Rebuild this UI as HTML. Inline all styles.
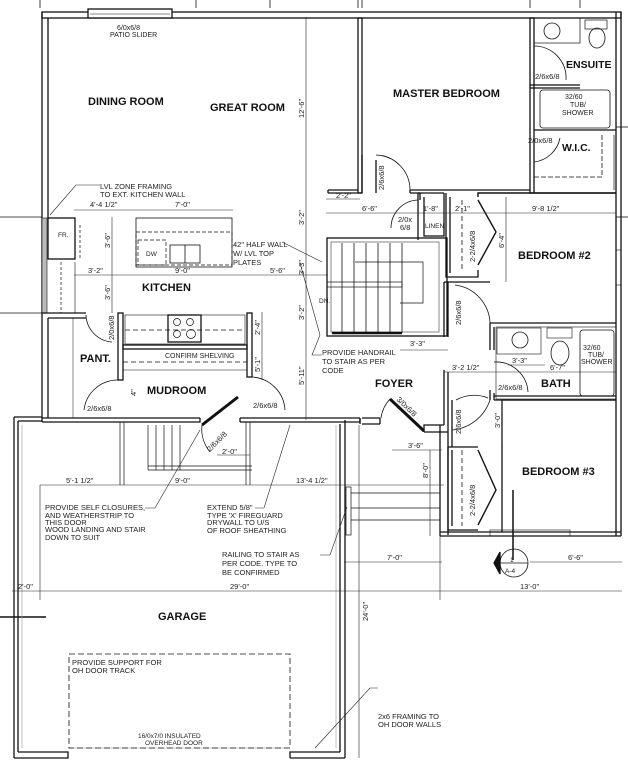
<!DOCTYPE html>
<html><head><meta charset="utf-8"><style>
html,body{margin:0;padding:0;background:#fff}
svg{display:block}
.t{font-family:"Liberation Sans",sans-serif;font-weight:bold;fill:#111}
.n{font-family:"Liberation Sans",sans-serif;fill:#222;font-size:7.5px}
.d{font-family:"Liberation Sans",sans-serif;fill:#222;font-size:7.5px}
</style></head><body>
<svg width="628" height="768" viewBox="0 0 628 768" xmlns="http://www.w3.org/2000/svg">
<g fill="none" stroke="#111" stroke-width="1.3">
<line x1="0" y1="217" x2="42" y2="217" stroke-width="0.8"/>
<line x1="0" y1="313" x2="42" y2="313" stroke-width="0.8"/>
<line x1="0" y1="617" x2="46" y2="617" stroke-width="1.5"/>
<line x1="616" y1="127" x2="628" y2="127" stroke-width="0.8"/>
<line x1="616" y1="217" x2="628" y2="217" stroke-width="0.8"/>
<line x1="40" y1="0" x2="40" y2="8" stroke-width="0.8"/>
<line x1="196" y1="0" x2="196" y2="8" stroke-width="0.8"/>
<line x1="270" y1="0" x2="270" y2="8" stroke-width="0.8"/>
<line x1="358" y1="0" x2="358" y2="8" stroke-width="0.8"/>
<line x1="362" y1="0" x2="362" y2="8" stroke-width="0.8"/>
<line x1="530" y1="0" x2="530" y2="8" stroke-width="0.8"/>
<line x1="580" y1="0" x2="580" y2="8" stroke-width="0.8"/>
<rect x="42" y="12" width="579" height="6"/>
<rect x="88" y="9" width="84" height="9" fill="#fff"/>
<line x1="90" y1="14" x2="170" y2="14" stroke-width="0.6"/>
<line x1="42" y1="12" x2="42" y2="318"/>
<line x1="48" y1="18" x2="48" y2="218"/>
<rect x="42" y="218" width="5" height="95" fill="#bbb" stroke-width="0.6"/>
<rect x="48" y="218" width="27" height="41"/>
<line x1="80" y1="225" x2="80" y2="258" stroke-dasharray="3,2" stroke-width="0.7"/>
<line x1="61" y1="262" x2="61" y2="313" stroke-dasharray="3,2" stroke-width="0.7"/>
<line x1="75" y1="262" x2="75" y2="313" stroke-width="0.6"/>
<path d="M42 313 H86 M48 318 H86"/>
<line x1="42" y1="318" x2="42" y2="422"/>
<line x1="48" y1="318" x2="48" y2="418"/>
<line x1="73" y1="318" x2="73" y2="418" stroke-width="0.5"/>
<path d="M42 418 H200 M42 422 H200 V418 M240 418 H360 M240 422 H360 V418 M240 418 V422"/>
<rect x="118" y="313" width="5" height="67"/>
<rect x="247" y="313" width="5" height="64"/>
<rect x="123" y="345" width="124" height="4"/>
<rect x="125" y="315" width="120" height="29" stroke-width="0.6"/>
<rect x="168" y="315" width="33" height="27"/>
<circle cx="177" cy="322" r="3.5" stroke-width="0.7"/><circle cx="190" cy="322" r="3.5" stroke-width="0.7"/>
<circle cx="177" cy="334" r="3.5" stroke-width="0.7"/><circle cx="191" cy="334" r="4.5" stroke-width="0.7"/>
<line x1="125" y1="330" x2="245" y2="330" stroke-dasharray="5,3" stroke-width="0.7"/>
<line x1="123" y1="362" x2="247" y2="362" stroke-dasharray="5,3" stroke-width="0.7"/>
<line x1="123" y1="370" x2="247" y2="370" stroke-width="0.6"/>
<path d="M86 315 A28 28 0 0 0 112 342" stroke-width="0.8"/>
<path d="M84 410 A34 34 0 0 1 118 380" stroke-width="0.8"/>
<path d="M252 377 A35 35 0 0 1 285 410" stroke-width="0.8"/>
<path d="M202 425 L238 397" stroke-width="3"/>
<path d="M202 425 A36 36 0 0 0 210 452" stroke-width="0.8"/>
<rect x="136" y="218" width="96" height="49" stroke-width="0.8"/>
<rect x="136" y="232" width="96" height="33" stroke-dasharray="4,2" stroke-width="0.7"/>
<rect x="138" y="240" width="28" height="25" stroke-dasharray="4,2" stroke-width="0.7"/>
<rect x="170" y="245" width="30" height="18" stroke-width="0.8"/>
<line x1="185" y1="245" x2="185" y2="263" stroke-width="0.8"/>
<rect x="358" y="18" width="4" height="175"/>
<path d="M328 190 H358 M328 193 H362 M328 190 V193"/>
<path d="M410 190 H530 M410 193 H420 V200 M410 190 V193"/>
<path d="M362 193 L362 155 M376 160 L376 193" stroke-width="1.3"/>
<path d="M376 155 A35 35 0 0 1 410 190" stroke-width="0.8"/>
<rect x="530" y="18" width="4" height="175"/>
<line x1="534" y1="193" x2="616" y2="193"/>
<rect x="534" y="18" width="46" height="25" stroke-width="0.7"/>
<circle cx="552" cy="31" r="8" stroke-width="0.8"/>
<rect x="585" y="20" width="22" height="9" stroke-width="0.7"/>
<ellipse cx="597" cy="38" rx="8" ry="10" stroke-width="0.8"/>
<path d="M534 46 A32 32 0 0 1 566 80" stroke-width="0.8"/>
<line x1="530" y1="85" x2="580" y2="85"/>
<line x1="530" y1="88" x2="580" y2="88"/>
<rect x="540" y="90" width="70" height="38" rx="3" stroke-width="0.8"/>
<line x1="534" y1="130" x2="616" y2="130"/>
<path d="M534 162 A30 30 0 0 0 560 138" stroke-width="0.8"/>
<path d="M534 177 H602 V135" stroke-dasharray="5,2" stroke-width="0.8"/>
<line x1="614" y1="135" x2="614" y2="190" stroke-width="0.7"/>
<line x1="616" y1="12" x2="616" y2="536"/>
<line x1="621" y1="12" x2="621" y2="536"/>
<rect x="616" y="250" width="5" height="35" stroke-width="0.6"/>
<path d="M418 193 V240 M424 197 V236 H444 V193 M418 193 H444"/>
<path d="M391 228 A28 28 0 0 1 418 200" stroke-width="0.8"/>
<path d="M446 193 V277 H478 V270 M450 197 V273" />
<line x1="462" y1="200" x2="462" y2="270" stroke-dasharray="5,3" stroke-width="0.8"/>
<path d="M478 197 V193 H616 M478 200 L496 232 L478 265" stroke-width="1.4"/>
<rect x="327" y="238" width="120" height="98" stroke-width="1.3"/>
<rect x="331" y="242" width="108" height="90" stroke-width="0.5"/>
<g stroke-width="0.8">
<line x1="342" y1="243" x2="342" y2="333"/><line x1="354" y1="243" x2="354" y2="333"/>
<line x1="366" y1="243" x2="366" y2="333"/><line x1="378" y1="243" x2="378" y2="333"/>
<line x1="390" y1="243" x2="390" y2="333"/><line x1="402" y1="243" x2="402" y2="333"/>
</g>
<path d="M355 262 H423 V303 H400" stroke-width="0.7"/>
<rect x="327" y="282" width="75" height="5" stroke-width="0.7"/>
<line x1="332" y1="333" x2="402" y2="333" stroke-width="2.5"/>
<path d="M444 282 V337 M448 282 V337 M444 282 H490" />
<path d="M455 285 A40 40 0 0 1 490 323" stroke-width="0.8"/>
<line x1="490" y1="323" x2="616" y2="323"/>
<path d="M490 323 V350 M494 327 V350"/>
<rect x="496" y="327" width="120" height="72" stroke-width="0.6"/>
<rect x="497" y="328" width="44" height="26" stroke-width="0.6"/>
<circle cx="520" cy="340" r="8" stroke-width="0.8"/>
<rect x="547" y="328" width="25" height="10" stroke-width="0.6"/>
<ellipse cx="560" cy="353" rx="9" ry="12" stroke-width="0.8"/>
<rect x="580" y="330" width="34" height="66" rx="3" stroke-width="0.8"/>
<path d="M494 362 A32 32 0 0 1 528 392" stroke-width="0.8"/>
<path d="M490 390 V400 M494 393 V400 M494 400 H616 M494 396 H616"/>
<path d="M444 370 V425 M448 372 V432 M444 425 H424 V432 M448 432 H424"/>
<path d="M380 418 V424 M380 418 H362 M380 424 H362 M360 418 V424"/>
<path d="M390 399 L424 431" stroke-width="3"/>
<path d="M390 399 A34 34 0 0 0 381 418" stroke-width="0.8"/>
<path d="M452 400 V447 M448 447 H478 M448 432 V535"/>
<path d="M456 400 A37 37 0 0 1 488 398" stroke-width="0.8"/>
<path d="M452 430 A44 44 0 0 0 490 400" stroke-width="0.8"/>
<path d="M502 400 V532 M502 400 H616"/>
<path d="M448 447 V530 H478 M452 450 V526"/>
<line x1="462" y1="450" x2="462" y2="526" stroke-dasharray="5,3" stroke-width="0.8"/>
<path d="M478 450 L496 490 L478 525" stroke-width="1.4"/>
<path d="M440 532 H621 M440 536 H621"/>
<rect x="490" y="530" width="80" height="6" stroke-width="0.6"/>
<line x1="513" y1="490" x2="513" y2="560" stroke-width="1.5"/>
<line x1="440" y1="425" x2="440" y2="536"/>
<rect x="346" y="487" width="5" height="48" stroke-width="0.7"/>
<line x1="351" y1="493" x2="440" y2="493" stroke-width="0.7"/>
<line x1="351" y1="508" x2="440" y2="508" stroke-width="0.7"/>
<line x1="351" y1="520" x2="440" y2="520" stroke-width="0.7"/>
<path d="M14 417 H42 M18 421 H42"/>
<line x1="14" y1="417" x2="14" y2="758"/>
<line x1="18" y1="421" x2="18" y2="752"/>
<line x1="22" y1="425" x2="22" y2="748" stroke="#999" stroke-width="0.6"/>
<line x1="340" y1="424" x2="340" y2="752"/>
<line x1="345" y1="420" x2="345" y2="758"/>
<line x1="336" y1="425" x2="336" y2="748" stroke="#999" stroke-width="0.6"/>
<path d="M14 758 H68 V752 H18 M290 758 V752 H340 M290 758 H345"/>
<line x1="68" y1="748" x2="290" y2="748" stroke="#999" stroke-width="0.6"/>
<rect x="69" y="654" width="221" height="94" stroke-dasharray="6,3" stroke-width="0.8"/>
<g stroke-width="0.7">
<line x1="148" y1="425" x2="148" y2="470"/><line x1="156" y1="425" x2="156" y2="470"/>
<line x1="164" y1="425" x2="164" y2="470"/><line x1="172" y1="425" x2="172" y2="470"/>
<line x1="180" y1="425" x2="180" y2="470"/><line x1="148" y1="470" x2="252" y2="470"/>
<line x1="148" y1="466" x2="252" y2="466"/>
<line x1="120" y1="422" x2="120" y2="485"/><line x1="124" y1="422" x2="124" y2="485"/>
<line x1="246" y1="422" x2="246" y2="485"/><line x1="250" y1="422" x2="250" y2="485"/>
</g>
<circle cx="514" cy="563" r="14" stroke-width="0.8"/>
<line x1="500" y1="563" x2="528" y2="563" stroke-width="0.7"/>
<path d="M500 552 L494 563 L500 574 Z" fill="#111"/>
</g>
<g stroke="#222" stroke-width="0.6" fill="none">
<line x1="74" y1="210" x2="233" y2="210"/>
<line x1="74" y1="275" x2="328" y2="275"/>
<line x1="112" y1="217" x2="112" y2="313"/>
<line x1="306" y1="17" x2="306" y2="420"/>
<line x1="326" y1="213" x2="616" y2="213"/>
<line x1="326" y1="199" x2="360" y2="199"/>
<line x1="506" y1="197" x2="506" y2="282"/>
<line x1="40" y1="485" x2="444" y2="485"/>
<line x1="12" y1="591" x2="622" y2="591"/>
<line x1="344" y1="562" x2="442" y2="562"/>
<line x1="530" y1="562" x2="622" y2="562"/>
<line x1="359" y1="425" x2="359" y2="758"/>
<line x1="40" y1="485" x2="40" y2="600"/>
<line x1="440" y1="485" x2="440" y2="600"/>
<line x1="400" y1="350" x2="448" y2="350"/>
<line x1="444" y1="372" x2="616" y2="372"/>
<line x1="508" y1="365" x2="545" y2="365"/>
<line x1="392" y1="450" x2="442" y2="450"/>
<line x1="430" y1="450" x2="430" y2="536"/>
<line x1="502" y1="400" x2="502" y2="443"/>
<line x1="217" y1="455" x2="250" y2="455"/>
<line x1="262" y1="312" x2="262" y2="380"/>
<polyline points="100,185 76,185 50,215"/>
<polyline points="282,242 322,262"/>
<polyline points="322,355 312,355 320,335 300,263"/>
<polyline points="145,508 155,508 200,430"/>
<polyline points="255,508 264,508 290,425"/>
<polyline points="320,555 330,555 347,507"/>
<polyline points="378,688 370,688 315,748"/>
</g>
<g class="t">
<text x="88" y="105" font-size="11">DINING ROOM</text>
<text x="210" y="111" font-size="11">GREAT ROOM</text>
<text x="393" y="97" font-size="11">MASTER BEDROOM</text>
<text x="566" y="68" font-size="10.5">ENSUITE</text>
<text x="562" y="151" font-size="10.5">W.I.C.</text>
<text x="518" y="259" font-size="11">BEDROOM #2</text>
<text x="142" y="291" font-size="11">KITCHEN</text>
<text x="80" y="362" font-size="11">PANT.</text>
<text x="147" y="394" font-size="11">MUDROOM</text>
<text x="375" y="387" font-size="11">FOYER</text>
<text x="541" y="387" font-size="11">BATH</text>
<text x="522" y="475" font-size="11">BEDROOM #3</text>
<text x="158" y="620" font-size="11">GARAGE</text>
</g>
<g class="n">
<text x="117" y="30" font-size="7">6/0x6/8</text>
<text x="110" y="37" font-size="7">PATIO SLIDER</text>
<text x="535" y="79">2/6x6/8</text>
<text x="565" y="99" font-size="7">32/60</text><text x="570" y="107" font-size="7">TUB/</text><text x="562" y="115" font-size="7">SHOWER</text>
<text x="528" y="143">2/0x6/8</text>
<text x="100" y="189">LVL ZONE FRAMING</text>
<text x="100" y="197">TO EXT. KITCHEN WALL</text>
<text x="58" y="237" font-size="6.5">FR.</text>
<text x="146" y="256" font-size="6.5">DW</text>
<text x="233" y="247">42" HALF WALL</text>
<text x="233" y="256">W/ LVL TOP</text>
<text x="233" y="265">PLATES</text>
<text x="398" y="222">2/0x</text><text x="400" y="230">6/8</text>
<text x="425" y="228" font-size="6.5">LINEN</text>
<text x="319" y="303" font-size="6.5">DN.</text>
<text x="165" y="358" font-size="7">CONFIRM SHELVING</text>
<text x="322" y="355">PROVIDE HANDRAIL</text>
<text x="322" y="364">TO STAIR AS PER</text>
<text x="322" y="373">CODE</text>
<text x="583" y="350" font-size="7">32/60</text><text x="588" y="357" font-size="7">TUB/</text><text x="581" y="364" font-size="7">SHOWER</text>
<text x="498" y="390">2/6x6/8</text>
<text x="87" y="411">2/6x6/8</text>
<text x="253" y="408">2/6x6/8</text>
<text x="45" y="510">PROVIDE SELF CLOSURES,</text>
<text x="45" y="518">AND WEATHERSTRIP TO</text>
<text x="45" y="525">THIS DOOR</text>
<text x="45" y="532">WOOD LANDING AND STAIR</text>
<text x="45" y="540">DOWN TO SUIT</text>
<text x="207" y="510">EXTEND 5/8"</text>
<text x="207" y="518">TYPE 'X' FIREGUARD</text>
<text x="207" y="525">DRYWALL TO U/S</text>
<text x="207" y="533">OF ROOF SHEATHING</text>
<text x="222" y="557">RAILING TO STAIR AS</text>
<text x="222" y="566">PER CODE. TYPE TO</text>
<text x="222" y="575">BE CONFIRMED</text>
<text x="72" y="665">PROVIDE SUPPORT FOR</text>
<text x="72" y="673">OH DOOR TRACK</text>
<text x="138" y="738" font-size="6.5">16/0x7/0 INSULATED</text>
<text x="145" y="745" font-size="6.5">OVERHEAD DOOR</text>
<text x="378" y="719">2x6 FRAMING TO</text>
<text x="378" y="727">OH DOOR WALLS</text>
<text x="510" y="562" font-size="6.5">1</text>
<text x="505" y="573" font-size="6.5">A-4</text>
</g>
<g class="d">
<text x="90" y="207">4'-4 1/2"</text><text x="175" y="207">7'-0"</text>
<text x="88" y="273">3'-2"</text><text x="175" y="273">9'-0"</text><text x="270" y="273">5'-6"</text>
<text x="336" y="198">2'-2"</text><text x="362" y="211">6'-6"</text>
<text x="423" y="211">1'-8"</text><text x="455" y="211">2'-1"</text><text x="532" y="211">9'-8 1/2"</text>
<text x="410" y="346">3'-3"</text><text x="452" y="370">3'-2 1/2"</text>
<text x="512" y="363">3'-3"</text><text x="550" y="370">6'-7"</text>
<text x="408" y="448">3'-6"</text>
<text x="66" y="483">5'-1 1/2"</text><text x="175" y="483">9'-0"</text><text x="296" y="483">13'-4 1/2"</text>
<text x="18" y="589">2'-0"</text><text x="230" y="589">29'-0"</text><text x="520" y="589">13'-0"</text>
<text x="387" y="560">7'-0"</text><text x="568" y="560">6'-6"</text>
<text x="222" y="454">2'-0"</text>
</g>
<g class="d">
<text transform="translate(304,118) rotate(-90)">12'-6"</text>
<text transform="translate(304,225) rotate(-90)">3'-2"</text>
<text transform="translate(304,275) rotate(-90)">3'-3"</text>
<text transform="translate(304,320) rotate(-90)">3'-2"</text>
<text transform="translate(304,385) rotate(-90)">5'-11"</text>
<text transform="translate(110,248) rotate(-90)">3'-6"</text>
<text transform="translate(110,300) rotate(-90)">3'-6"</text>
<text transform="translate(260,335) rotate(-90)">2'-4"</text>
<text transform="translate(260,372) rotate(-90)">5'-1"</text>
<text transform="translate(504,248) rotate(-90)">6'-4"</text>
<text transform="translate(500,428) rotate(-90)">3'-0"</text>
<text transform="translate(428,478) rotate(-90)">8'-0"</text>
<text transform="translate(368,621) rotate(-90)">24'-0"</text>
<text transform="translate(384,190) rotate(-90)">2/6x6/8</text>
<text transform="translate(461,325) rotate(-90)">2/6x6/8</text>
<text transform="translate(114,340) rotate(-90)">2/0x6/8</text>
<text transform="translate(461,434) rotate(-90)">2/6x6/8</text>
<text transform="translate(475,262) rotate(-90)">2-2/4x6/8</text>
<text transform="translate(475,516) rotate(-90)">2-2/4x6/8</text>
<text transform="translate(136,396) rotate(-90)">4"</text>
<text transform="translate(396,400) rotate(44)">3/0x6/8</text>
<text transform="translate(210,452) rotate(-45)">2/6x6/8</text>
</g>
</svg>
</body></html>
